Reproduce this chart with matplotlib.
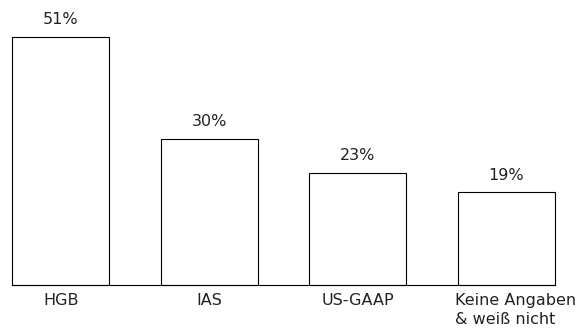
import matplotlib
matplotlib.use("Agg")
import matplotlib.pyplot as plt
import matplotlib.transforms as mtransforms
import numpy as np

# Share of answers per accounting standard (%)
categories = ["HGB", "IAS", "US-GAAP", "Keine Angaben\n& weiß nicht"]
shares = [51, 30, 23, 19]
value_labels = ["51%", "30%", "23%", "19%"]

plt.rcParams["font.family"] = ["DejaVu Sans"]

fig = plt.figure(figsize=(5.85, 3.33), dpi=100)
ax = fig.add_axes([12 / 585, (333 - 284.7) / 333, 543 / 585, 248 / 333])

x = np.arange(len(categories))
bars = ax.bar(x, shares, width=0.654, color="white", edgecolor="black",
              linewidth=0.8, zorder=2, clip_on=False)

# percentage above each bar
for rect, lab in zip(bars, value_labels):
    ax.annotate(lab, (rect.get_x() + rect.get_width() / 2, rect.get_height()),
                xytext=(0, 7), textcoords="offset points",
                ha="center", va="bottom", fontsize=11.5, color="#222222")

ax.set_xlim(-0.33, 3.33)
ax.set_ylim(0, 51)
ax.set_xticks(x)
ax.set_xticklabels(categories, fontsize=11.5, color="#222222")
ax.tick_params(axis="x", length=0, pad=6)
ax.set_yticks([])

# last label is left-aligned and sits a little to the right
last = ax.get_xticklabels()[-1]
last.set_multialignment("left")
last.set_linespacing(1.3)
last.set_transform(last.get_transform() +
                   mtransforms.ScaledTranslation(10 / 100, 0, fig.dpi_scale_trans))

for side in ["left", "right", "top"]:
    ax.spines[side].set_visible(False)
ax.spines["bottom"].set_linewidth(0.8)
ax.patch.set_visible(False)

fig.savefig("out.png", dpi=100, facecolor="white")
